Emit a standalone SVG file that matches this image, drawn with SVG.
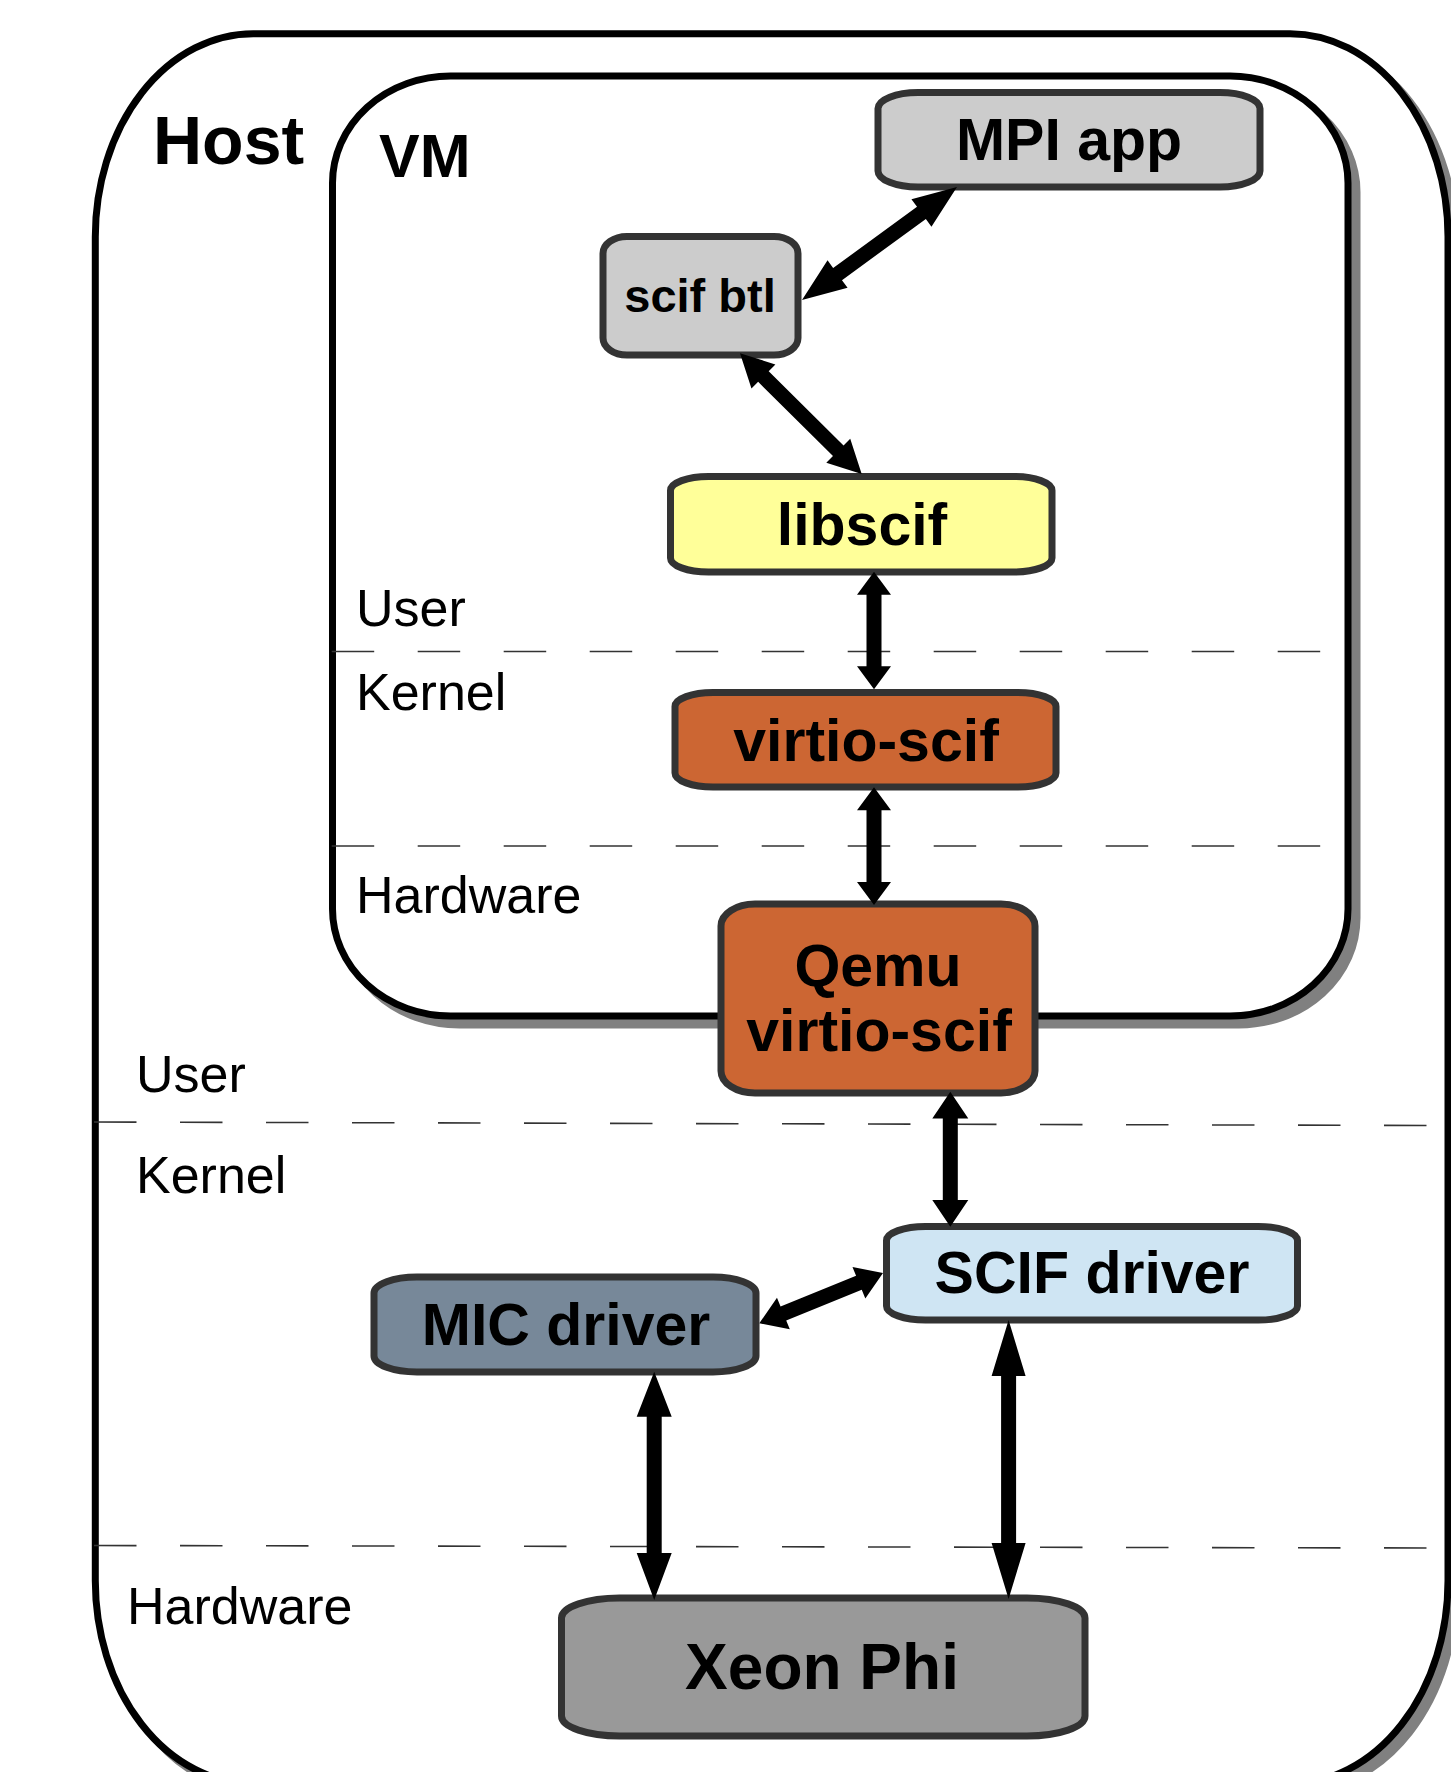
<svg xmlns="http://www.w3.org/2000/svg" width="1451" height="1772" viewBox="0 0 1451 1772">
<style>
  .frame { fill: #ffffff; stroke: #000000; stroke-width: 7; }
  .shadow { fill: #808080; stroke: #808080; stroke-width: 7; }
  .dash { fill: none; stroke: #333333; stroke-width: 1.6; stroke-dasharray: 42.5 43.5; }
  .box { stroke: #333333; stroke-width: 7; }
  .big { font-family: "Liberation Sans", Arial, sans-serif; font-weight: bold; fill: #000; }
  .lbl { font-family: "Liberation Sans", Arial, sans-serif; font-weight: bold; font-size: 59px; fill: #000; text-anchor: middle; }
  .layer { font-family: "Liberation Sans", Arial, sans-serif; font-size: 52px; fill: #000; }
  .arrow { fill: #000000; stroke: none; }
</style>
<rect width="1451" height="1772" fill="#ffffff"/>

<g id="host">
  <rect class="shadow" x="103.3" y="41.7" width="1352.7" height="1750" rx="158" ry="203"/>
  <rect class="frame" x="95.3" y="33.7" width="1352.7" height="1750" rx="158" ry="203"/>
  <path class="dash" d="M94 1122 L1427 1125.5"/>
  <path class="dash" d="M94 1545.5 L1427 1548"/>
  <text class="big" x="153" y="164" font-size="68">Host</text>
  <text class="layer" x="136" y="1092">User</text>
  <text class="layer" x="136" y="1193">Kernel</text>
  <text class="layer" x="127" y="1624">Hardware</text>
</g>

<g id="vm">
  <rect class="shadow" x="341.5" y="85" width="1015.5" height="940" rx="118" ry="107"/>
  <rect class="frame" x="332.5" y="76" width="1015.5" height="940" rx="118" ry="107"/>
  <path class="dash" d="M331.7 651.5 L1321 651.5"/>
  <path class="dash" d="M331.7 846 L1321 846"/>
  <text class="big" x="379" y="177" font-size="61">VM</text>
  <text class="layer" x="356" y="626">User</text>
  <text class="layer" x="356" y="710">Kernel</text>
  <text class="layer" x="356" y="913">Hardware</text>
</g>

<g id="mpi-app">
  <rect class="box" x="878" y="92.5" width="382" height="94.5" rx="40" ry="16" fill="#cccccc"/>
  <text class="lbl" x="1069" y="160" font-size="58">MPI app</text>
</g>

<g id="scif-btl">
  <rect class="box" x="603" y="236.5" width="195" height="118.5" rx="24" ry="17" fill="#cccccc"/>
  <text class="lbl" x="700" y="312" style="font-size:47px">scif btl</text>
</g>

<g id="libscif">
  <rect class="box" x="670.5" y="476.5" width="381.5" height="95.5" rx="38" ry="14" fill="#ffff99"/>
  <text class="lbl" x="862" y="545">libscif</text>
</g>

<g id="virtio-scif">
  <rect class="box" x="675" y="692.5" width="381" height="94.5" rx="38" ry="14" fill="#cc6633"/>
  <text class="lbl" x="866" y="761">virtio-scif</text>
</g>

<g id="qemu-virtio-scif">
  <rect class="box" x="721" y="904" width="314" height="189" rx="34" ry="22" fill="#cc6633"/>
  <text class="lbl" x="878" y="986">Qemu</text>
  <text class="lbl" x="879" y="1051">virtio-scif</text>
</g>

<g id="scif-driver">
  <rect class="box" x="886.5" y="1226.5" width="411" height="93.5" rx="39" ry="14" fill="#cfe5f3"/>
  <text class="lbl" x="1092" y="1293">SCIF driver</text>
</g>

<g id="mic-driver">
  <rect class="box" x="374" y="1277" width="382" height="95" rx="43" ry="16" fill="#778899"/>
  <text class="lbl" x="566" y="1345">MIC driver</text>
</g>

<g id="xeon-phi">
  <rect class="box" x="561.5" y="1598" width="523.5" height="138" rx="58" ry="20" fill="#999999"/>
  <text class="lbl" x="822" y="1689" style="font-size:64px">Xeon Phi</text>
</g>

<g id="connectors">
  <polygon class="arrow" points="802,300 847.57,287.82 841.98,280.14 925.86,218.98 931.45,226.66 957,187 911.43,199.18 917.02,206.86 833.14,268.02 827.55,260.34"/>
  <polygon class="arrow" points="740,353.3 751.46,388.61 758.15,381.87 832.99,456.09 826.30,462.83 861.7,474 850.24,438.69 843.55,445.43 768.71,371.21 775.40,364.47"/>
  <polygon class="arrow" points="874,571.7 857,594.7 866.5,594.7 866.5,666.3 857,666.3 874,689.3 891,666.3 881.5,666.3 881.5,594.7 891,594.7"/>
  <polygon class="arrow" points="874,787.3 857,810.3 866.5,810.3 866.5,882 857,882 874,905 891,882 881.5,882 881.5,810.3 891,810.3"/>
  <polygon class="arrow" points="950.3,1091.7 932.3,1118.4 942.8,1118.4 942.8,1200 932.3,1200 950.3,1226.7 968.3,1200 957.8,1200 957.8,1118.4 968.3,1118.4"/>
  <polygon class="arrow" points="883,1273 852.50,1267.05 856.08,1275.85 780.56,1306.55 776.98,1297.75 759.3,1323.3 789.80,1329.25 786.22,1320.45 861.74,1289.75 865.32,1298.55"/>
  <polygon class="arrow" points="654.2,1371.7 636.7,1416.7 646.7,1416.7 646.7,1553 636.7,1553 654.2,1600 671.7,1553 661.7,1553 661.7,1416.7 671.7,1416.7"/>
  <polygon class="arrow" points="1008.6,1320 991.6,1376 1001.1,1376 1001.1,1543 991.6,1543 1008.6,1599 1025.6,1543 1016.1,1543 1016.1,1376 1025.6,1376"/>
</g>
</svg>
